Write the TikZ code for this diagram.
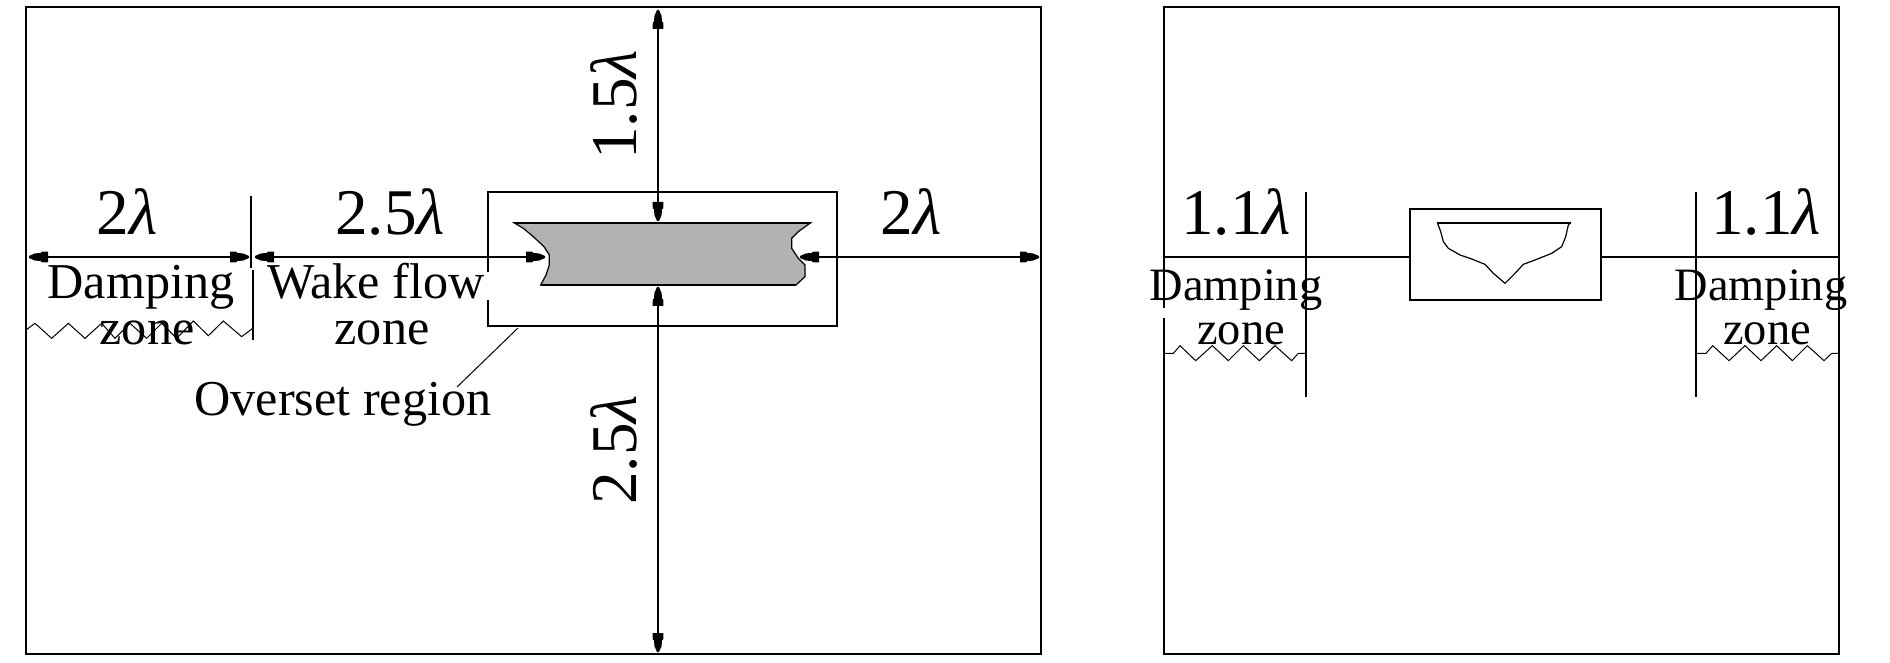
\documentclass[tikz,border=0pt]{standalone}
\usepackage{fontspec}
\setmainfont{Liberation Serif}
\usetikzlibrary{arrows.meta}
\pgfdeclarearrow{
  name=StubTip,
  setup code={\pgfarrowssettipend{0pt}\pgfarrowssetlineend{-4pt}\pgfarrowssetbackend{-9.5pt}\pgfarrowssetvisualtipend{0pt}},
  drawing code={
    \pgfpathmoveto{\pgfpoint{0pt}{0.5pt}}
    \pgfpathlineto{\pgfpoint{-3pt}{1.8pt}}
    \pgfpathlineto{\pgfpoint{-6pt}{2pt}}
    \pgfpathlineto{\pgfpoint{-6pt}{2.6pt}}
    \pgfpathlineto{\pgfpoint{-9.5pt}{2.7pt}}
    \pgfpathlineto{\pgfpoint{-9.5pt}{-2.7pt}}
    \pgfpathlineto{\pgfpoint{-6pt}{-2.6pt}}
    \pgfpathlineto{\pgfpoint{-6pt}{-2pt}}
    \pgfpathlineto{\pgfpoint{-3pt}{-1.8pt}}
    \pgfpathlineto{\pgfpoint{0pt}{-0.5pt}}
    \pgfpathclose\pgfusepathqfill},
  defaults={}
}
\newcommand{\lam}{{\itshape λ}}
\tikzset{
  boxnode/.style={draw=black,line width=1pt,fill=none,inner sep=0pt,outer sep=0pt},
  mainline/.style={draw=black,line width=0.9pt},
  dim/.style={mainline,{StubTip}-{StubTip}},
  thin line/.style={draw=black,line width=0.5pt},
  biglabel/.style={anchor=base,inner sep=0pt,font=\fontsize{32.6}{36}\selectfont},
  zonelabel/.style={anchor=base,inner sep=0pt,font=\fontsize{25.1}{28}\selectfont},
  zonelabelb/.style={anchor=base,inner sep=0pt,font=\fontsize{23.2}{26}\selectfont},
  gapline/.style={draw=white,line width=1.6pt}
}
\begin{document}
\begin{tikzpicture}[x=0.5pt,y=-0.5pt]
\useasboundingbox (0,0) rectangle (1890,663);
% frames
\node[boxnode,minimum width=507.5pt,minimum height=323.5pt] (outerL) at (533.5,330.5) {};
\node[boxnode,minimum width=174.5pt,minimum height=67pt] (overset) at (662,259) {};
\node[boxnode,minimum width=337.75pt,minimum height=323.5pt] (outerR) at (1501.25,330.5) {};
\node[boxnode,minimum width=95.5pt,minimum height=45.5pt] (oversetR) at (1505,254.5) {};
% named ends
\coordinate (hL) at (29,257);
\coordinate (divA) at (249,257);
\coordinate (divB) at (255,257);
\coordinate (shipL) at (545,257);
\coordinate (shipR) at (800,257);
\coordinate (hR) at (1039,257);
\coordinate (vT) at (658,10);
\coordinate (shipT) at (658,221);
\coordinate (shipB) at (658,287);
\coordinate (vB) at (658,652);
% ship plan
\begin{scope}[shift={(470,170)},x=0.16667pt,y=-0.16667pt]
\draw[fill=black!30,draw=black,line width=0.6pt]
 (132,158) -- (1022,158) -- (985,185) -- (965,205) -- (965,235) -- (985,265) -- (1005,285) -- (1005,320) -- (978,345)
 -- (212,345) -- (228,315) -- (238,285) -- (238,255) -- (222,230) -- (190,200) -- (160,175) -- cycle;
\draw[line width=1pt] (132,158) -- (1022,158) (212,345) -- (978,345);
\end{scope}
% dimension lines
\draw[dim] (hL) -- (divA);
\draw[dim] (divB) -- (shipL);
\draw[dim] (shipR) -- (hR);
\draw[dim] (vT) -- (shipT);
\draw[dim] (shipB) -- (vB);
% dividers
\coordinate (d1) at (251,196); \coordinate (d2) at (251,268);
\coordinate (d3) at (253,270); \coordinate (d4) at (253,340);
\draw[mainline] (d1) -- (d2) (d3) -- (d4);
% gap in overset frame
\coordinate (g1) at (487,272); \coordinate (g2) at (487,300);
\draw[gapline] (g1) -- (g2);
% leader
\coordinate (leadA) at (518,328);
\coordinate (lead) at (457,387);
\draw[thin line] (leadA) -- (lead);
% left zigzag
\begin{scope}[shift={(0,160)},x=0.16667pt,y=-0.16667pt]
\draw[thin line] (78,510) -- (105,490) -- (155,535) -- (205,490) -- (255,535) -- (305,490) -- (345,535) -- (390,490) -- (440,535) -- (485,490) -- (530,535) -- (580,483) -- (625,527) -- (670,483) -- (725,530) -- (758,505);
\end{scope}
% right panel
\draw[mainline] (outerR.west |- hL) -- (oversetR.west |- hL);
\draw[mainline] (oversetR.east |- hL) -- (outerR.east |- hL);
\coordinate (r1t) at (1306,192); \coordinate (r1b) at (1306,397);
\coordinate (r2t) at (1696,192); \coordinate (r2b) at (1696,397);
\draw[mainline] (r1t) -- (r1b);
\draw[mainline] (r2t) -- (r2b);
\coordinate (g3) at (1163.5,308); \coordinate (g4) at (1163.5,318);
\draw[gapline] (g3) -- (g4);
% hull section
\begin{scope}[shift={(1150,170)},x=0.16667pt,y=-0.16667pt]
\draw[line width=1pt] (862,158) -- (1262,158);
\draw[line width=0.6pt] (862,158) -- (872,185) -- (880,215) -- (895,235) -- (930,255) -- (960,265) -- (1005,283) -- (1030,310) -- (1065,340) -- (1095,310) -- (1120,283) -- (1160,268) -- (1205,250) -- (1235,230) -- (1247,200) -- (1255,165) -- (1262,158);
\draw[thin line] (40,550) -- (70,550) -- (90,527) -- (137,572) -- (187,527) -- (235,572) -- (280,527) -- (328,572) -- (375,527) -- (425,572) -- (445,550) -- (470,550);
\end{scope}
\begin{scope}[shift={(1600,170)},x=0.16667pt,y=-0.16667pt]
\draw[thin line] (288,550) -- (318,550) -- (338,527) -- (387,572) -- (435,527) -- (483,572) -- (530,527) -- (577,572) -- (622,527) -- (672,572) -- (695,550) -- (718,550);
\end{scope}
% labels
\node[biglabel] (t2a) at (127,235) {2\lam};
\node[biglabel] (t25) at (390,235) {2.5\lam};
\node[biglabel] (t2b) at (911,235) {2\lam};
\node[biglabel,rotate=90] (t15v) at (636,105) {1.5\lam};
\node[biglabel,rotate=90] (t25v) at (636,450) {2.5\lam};
\node[zonelabel] (damp) at (141,299) {Damping};
\node[zonelabel] (zone1) at (147,344) {zone};
\node[zonelabel] (wake) at (376,299) {Wake flow};
\node[zonelabel] (zone2) at (382,344) {zone};
\node[zonelabel] (over) at (343,415) {Overset region};
\node[biglabel] (t11a) at (1236,235) {1.1\lam};
\node[biglabel] (t11b) at (1766,235) {1.1\lam};
\node[zonelabelb] (dampR1) at (1236,300) {Damping};
\node[zonelabelb] (zoneR1) at (1241,344) {zone};
\node[zonelabelb] (dampR2) at (1761,300) {Damping};
\node[zonelabelb] (zoneR2) at (1767,344) {zone};
\end{tikzpicture}
\end{document}
